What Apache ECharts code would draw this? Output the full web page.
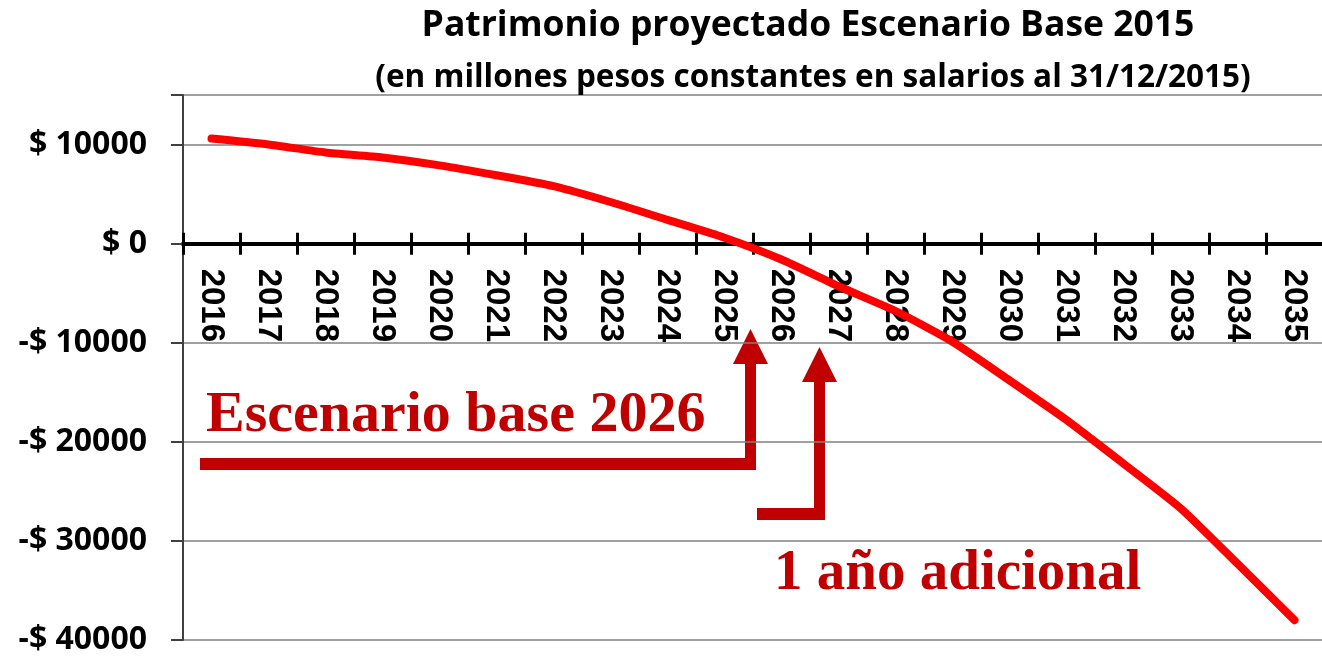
<!DOCTYPE html>
<html>
<head>
<meta charset="utf-8">
<script src="https://cdn.jsdelivr.net/npm/echarts@6/dist/echarts.min.js"></script>
<style>
  html, body { margin: 0; padding: 0; background: #fff; }
  #main { width: 1322px; height: 656px; }
</style>
</head>
<body>
<div id="main"></div>
<script>
// years on the category axis
var years = ["2016", "2017", "2018", "2019", "2020", "2021", "2022", "2023", "2024", "2025",
             "2026", "2027", "2028", "2029", "2030", "2031", "2032", "2033", "2034", "2035"];
// patrimonio proyectado (millones)
var patrimonio = [10600, 10000, 9200, 8700, 7900, 6900, 5800, 4200, 2400, 600,
                  -1600, -4300, -6800, -9900, -13800, -17800, -22200, -26700, -32300, -38000];
var yTicks = [-40000, -30000, -20000, -10000, 0, 10000];
var yMin = -40000, yMax = 15000;

var titleText = "Patrimonio proyectado Escenario Base 2015";
var subText = "(en millones pesos constantes en salarios al 31/12/2015)";
var note1 = "Escenario base 2026";
var note2 = "1 año adicional";

var red = "#C00000";
var gridH = 545;
// the category axis sits on the zero line, moved up from the grid bottom
var zeroOffset = -gridH * (0 - yMin) / (yMax - yMin);

var myChart = echarts.init(document.getElementById("main"));

var gridBox = { left: 183, top: 95, width: 1140, height: gridH, outerBoundsMode: "none", containLabel: false };

myChart.setOption({
  animation: false,
  title: [
    {
      text: titleText,
      left: 803, top: 3, textAlign: "center",
      textStyle: { fontFamily: "Open Sans", fontWeight: "bold", fontSize: 35.5, color: "#000" }
    },
    {
      text: subText,
      left: 808, top: 57, textAlign: "center",
      textStyle: { fontFamily: "Open Sans", fontWeight: "bold", fontSize: 31.5, color: "#000" }
    }
  ],
  grid: [gridBox, Object.assign({}, gridBox)],
  xAxis: [
    {
      type: "category",
      gridIndex: 0,
      position: "bottom",
      offset: zeroOffset,
      z: 0,
      data: years,
      axisLine: { onZero: false, lineStyle: { color: "#000", width: 4 } },
      axisTick: { show: true, inside: false, length: 11, lineStyle: { color: "#000", width: 3 } },
      axisLabel: {
        rotate: -90, margin: 25, color: "#000",
        fontFamily: "Liberation Sans", fontWeight: "bold", fontSize: 33
      },
      splitLine: { show: false }
    },
    {
      // second copy only for the upward half of the crossing ticks
      type: "category",
      gridIndex: 1,
      position: "bottom",
      offset: zeroOffset,
      z: 0,
      data: years,
      axisLine: { onZero: false, lineStyle: { color: "#000", width: 4 } },
      axisTick: { show: true, inside: true, length: 11, lineStyle: { color: "#000", width: 3 } },
      axisLabel: { show: false },
      splitLine: { show: false }
    }
  ],
  yAxis: [
    {
      type: "value",
      gridIndex: 0,
      min: yMin,
      max: yMax,
      interval: 10000,
      z: 0,
      axisLine: { show: true, lineStyle: { color: "#404040", width: 2 } },
      axisTick: { show: true, length: 12, lineStyle: { color: "#404040", width: 2 } },
      axisLabel: {
        margin: 36, color: "#000",
        fontFamily: "Open Sans", fontWeight: "bold", fontSize: 32,
        formatter: function (v) {
          if (yTicks.indexOf(v) < 0) return "";
          return v < 0 ? "-$ " + Math.abs(v) : "$ " + v;
        }
      },
      splitLine: { show: true, lineStyle: { color: "#808080", width: 1.5 } }
    },
    {
      type: "value",
      gridIndex: 1,
      min: yMin,
      max: yMax,
      interval: 10000,
      show: false,
      splitLine: { show: false }
    }
  ],
  series: [
    {
      type: "line",
      xAxisIndex: 0,
      yAxisIndex: 0,
      data: patrimonio,
      smooth: 0.2,
      showSymbol: false,
      lineStyle: { color: "#FF0000", width: 8, cap: "round", join: "round" },
      z: 20,
      zlevel: 1
    }
  ],
  graphic: [
    {
      type: "polygon",
      shape: { points: [[200, 458], [745, 458], [745, 364], [733, 364], [750.5, 329], [768, 364],
                        [756, 364], [756, 470], [200, 470]] },
      style: { fill: red }
    },
    {
      type: "polygon",
      shape: { points: [[757, 508], [814, 508], [814, 382], [802, 382], [819.5, 347], [837, 382],
                        [825, 382], [825, 520], [757, 520]] },
      style: { fill: red }
    },
    {
      type: "text",
      left: 206, top: 387,
      style: { text: note1, fill: red, font: "bold 58px 'Liberation Serif'" }
    },
    {
      type: "text",
      left: 774, top: 546,
      style: { text: note2, fill: red, font: "bold 57px 'Liberation Serif'" }
    }
  ]
});
</script>
</body>
</html>
